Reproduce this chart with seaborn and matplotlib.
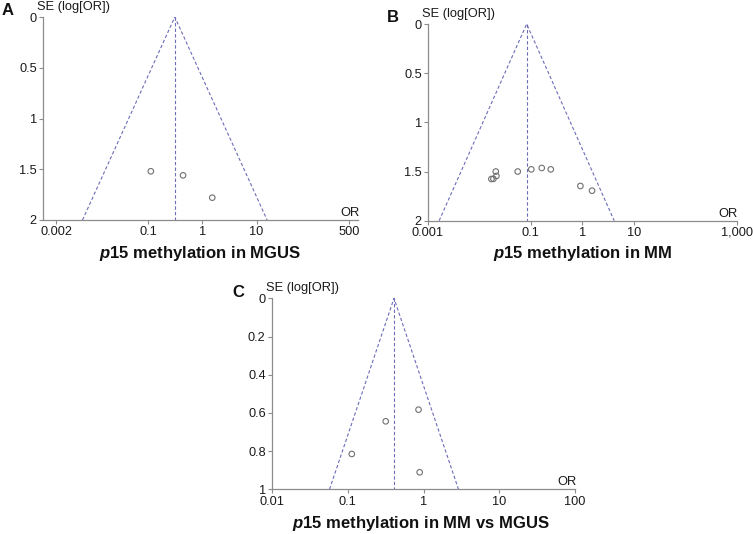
import numpy as np
import pandas as pd
import matplotlib
matplotlib.use("Agg")
import matplotlib.pyplot as plt
import seaborn as sns
from matplotlib.ticker import FixedLocator, FixedFormatter, NullLocator

# ---------------- data ----------------
a_or = [0.112, 0.44, 1.52]
a_se = [1.52, 1.56, 1.78]
a_pooled = 0.31

b_or = [0.0208, 0.0214, 0.0187, 0.0171, 0.0556, 0.102, 0.163, 0.244, 0.92, 1.55]
b_se = [1.50, 1.545, 1.574, 1.576, 1.50, 1.478, 1.464, 1.478, 1.647, 1.695]
b_pooled = 0.083

c_or = [0.86, 0.317, 0.113, 0.89]
c_se = [0.583, 0.644, 0.815, 0.911]
c_pooled = 0.408

a_xticks = [0.002, 0.1, 1, 10, 500]
a_xlabels = ["0.002", "0.1", "1", "10", "500"]
b_xticks = [0.001, 0.1, 1, 10, 1000]
b_xlabels = ["0.001", "0.1", "1", "10", "1,000"]
c_xticks = [0.01, 0.1, 1, 10, 100]
c_xlabels = ["0.01", "0.1", "1", "10", "100"]

ab_yticks = [0, 0.5, 1, 1.5, 2]
ab_ylabels = ["0", "0.5", "1", "1.5", "2"]
c_yticks = [0, 0.2, 0.4, 0.6, 0.8, 1]
c_ylabels = ["0", "0.2", "0.4", "0.6", "0.8", "1"]

titles = ["p15 methylation in MGUS", "p15 methylation in MM", "p15 methylation in MM vs MGUS"]

# ---------------- style ----------------
sns.set_style("ticks")
plt.rcParams["font.family"] = ["Liberation Sans", "DejaVu Sans"]
plt.rcParams["mathtext.fontset"] = "custom"
plt.rcParams["mathtext.it"] = "Liberation Sans:italic:bold"
plt.rcParams["mathtext.rm"] = "Liberation Sans:bold"

W, H = 753, 534
fig = plt.figure(figsize=(W / 100, H / 100), dpi=100)

AX_COL = "#8c8c8c"
FUN_COL = "#6c6cb8"
PT_COL = "#707070"


def px_rect(left, right, top, bottom):
    return [left / W, 1 - bottom / H, (right - left) / W, (bottom - top) / H]


def funnel(ax, ors, ses, pooled, ymax, xlim, xticks, xlabels, yticks, ylabels):
    df = pd.DataFrame({"OR": ors, "SE": ses})
    ax.set_xscale("log")
    z = 1.96
    fx = [pooled * np.exp(-z * ymax), pooled, pooled * np.exp(z * ymax)]
    fy = [ymax, 0, ymax]
    ax.plot(fx, fy, color=FUN_COL, lw=0.8, ls=(0, (3, 2)), zorder=2)
    ax.plot([pooled, pooled], [0, ymax], color=FUN_COL, lw=0.8, ls=(0, (3, 2)), zorder=2)
    sns.scatterplot(data=df, x="OR", y="SE", ax=ax, marker="o", s=16,
                    facecolor="none", edgecolor=PT_COL, linewidth=0.8, zorder=3)
    ax.set_xlim(*xlim)
    ax.set_ylim(ymax, 0)
    ax.xaxis.set_major_locator(FixedLocator(xticks))
    ax.xaxis.set_major_formatter(FixedFormatter(xlabels))
    ax.xaxis.set_minor_locator(NullLocator())
    ax.yaxis.set_major_locator(FixedLocator(yticks))
    ax.yaxis.set_major_formatter(FixedFormatter(ylabels))
    ax.set_xlabel("")
    ax.set_ylabel("")
    sns.despine(ax=ax)
    for s in ["left", "bottom"]:
        ax.spines[s].set_color(AX_COL)
        ax.spines[s].set_linewidth(0.9)
    ax.tick_params(axis="both", colors=AX_COL, length=3, width=0.8,
                   labelsize=9.2, labelcolor="#1a1a1a", pad=1.5)
    ax.patch.set_alpha(0)
    ax.annotate("SE (log[OR])", xy=(0, 1), xycoords="axes fraction",
                xytext=(-4.3, 5), textcoords="offset points",
                ha="left", va="baseline", fontsize=9.3, color="#1a1a1a")
    ax.annotate("OR", xy=(1, 0), xycoords="axes fraction",
                xytext=(1, 3), textcoords="offset points",
                ha="right", va="baseline", fontsize=9.3, color="#1a1a1a")


axA = fig.add_axes(px_rect(43, 358, 17, 220))
funnel(axA, a_or, a_se, a_pooled, 2, (10 ** -2.94, 10 ** 2.87),
       a_xticks, a_xlabels, ab_yticks, ab_ylabels)

axB = fig.add_axes(px_rect(428, 736.5, 24, 220.7))
funnel(axB, b_or, b_se, b_pooled, 2, (0.001, 1000),
       b_xticks, b_xlabels, ab_yticks, ab_ylabels)

axC = fig.add_axes(px_rect(272, 575, 298.3, 489.3))
funnel(axC, c_or, c_se, c_pooled, 1, (0.01, 100),
       c_xticks, c_xlabels, c_yticks, c_ylabels)


def fig_text(xp, yp, s, **kw):
    fig.text(xp / W, 1 - yp / H, s, **kw)


# x-axis titles (p15 italic)
for (cx, by), t in zip([(200.5, 258), (583, 258), (421, 528)], titles):
    rest = t[len("p15"):]
    fig_text(cx, by, r"$\it{p15}$" + rest, ha="center", va="baseline",
             fontsize=12, fontweight="bold", color="#111111")

# panel letters
fig_text(2, 15, "A", ha="left", va="baseline", fontsize=12, fontweight="bold", color="#111111")
fig_text(387, 22, "B", ha="left", va="baseline", fontsize=12, fontweight="bold", color="#111111")
fig_text(232, 297, "C", ha="left", va="baseline", fontsize=12, fontweight="bold", color="#111111")

fig.savefig("out.png", dpi=100)
